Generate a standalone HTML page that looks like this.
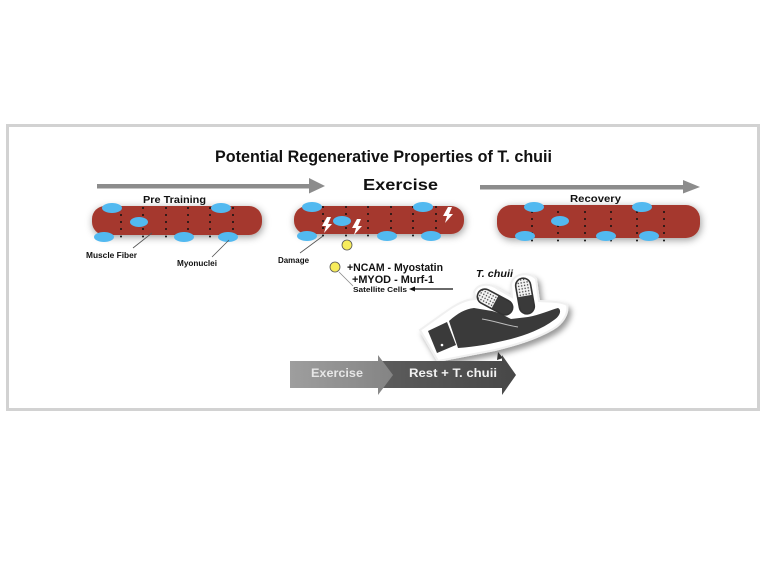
<!DOCTYPE html>
<html><head><meta charset="utf-8"><style>
html,body{margin:0;padding:0;background:#fff;}
svg{display:block;}
text{font-family:"Liberation Sans",Arial,sans-serif;font-weight:bold;fill:#111;}
</style></head><body>
<svg width="767" height="575" viewBox="0 0 767 575" xmlns="http://www.w3.org/2000/svg">
<defs>
<filter id="sh" x="-20%" y="-60%" width="140%" height="220%">
<feGaussianBlur in="SourceAlpha" stdDeviation="4"/>
<feOffset dx="1" dy="2" result="b"/>
<feFlood flood-color="#000" flood-opacity="0.4"/>
<feComposite in2="b" operator="in"/>
<feMerge><feMergeNode/><feMergeNode in="SourceGraphic"/></feMerge>
</filter>
<filter id="sh2" x="-20%" y="-30%" width="140%" height="160%">
<feGaussianBlur in="SourceAlpha" stdDeviation="3"/>
<feOffset dx="3" dy="4" result="b"/>
<feFlood flood-color="#000" flood-opacity="0.4"/>
<feComposite in2="b" operator="in"/>
<feMerge><feMergeNode/><feMergeNode in="SourceGraphic"/></feMerge>
</filter>
<pattern id="dots" width="3" height="3" patternUnits="userSpaceOnUse">
<rect width="3" height="3" fill="#f4f4f4"/><circle cx="1.5" cy="1.5" r="0.7" fill="#333"/>
</pattern>
<linearGradient id="g1" x1="0" x2="1"><stop offset="0" stop-color="#9e9e9e"/><stop offset="1" stop-color="#848484"/></linearGradient>
<linearGradient id="g2" x1="0" x2="1"><stop offset="0" stop-color="#5e5e5e"/><stop offset="1" stop-color="#474747"/></linearGradient>
<g id="col1"><circle cx="0" cy="208" r="1"/><circle cx="0" cy="215" r="1"/><circle cx="0" cy="222" r="1"/><circle cx="0" cy="229" r="1"/><circle cx="0" cy="236.5" r="1"/></g>
</defs>

<!-- frame -->
<rect x="7.5" y="125.5" width="751" height="284" fill="#fff" stroke="#d2d2d2" stroke-width="3"/>

<!-- title -->
<text x="215" y="162" font-size="16.5" textLength="337" lengthAdjust="spacingAndGlyphs">Potential Regenerative Properties of T. chuii</text>
<text x="363" y="190" font-size="15.5" textLength="75" lengthAdjust="spacingAndGlyphs">Exercise</text>

<!-- top arrows -->
<rect x="97" y="184" width="215" height="4.5" fill="#8c8c8c"/>
<polygon points="309,178 325,186 309,193.5" fill="#8c8c8c"/>
<rect x="480" y="185" width="205" height="4.5" fill="#8c8c8c"/>
<polygon points="683,180 700,187 683,193.5" fill="#8c8c8c"/>

<!-- fibers -->
<rect x="92" y="206" width="170" height="29" rx="13" fill="#a5392d" filter="url(#sh)"/>
<rect x="294" y="206" width="170" height="28" rx="13" fill="#a5392d" filter="url(#sh)"/>
<rect x="497" y="205" width="203" height="33" rx="14" fill="#a5392d" filter="url(#sh)"/>

<!-- dots -->
<g fill="#111">
<use href="#col1" x="121"/><use href="#col1" x="143"/><use href="#col1" x="166"/><use href="#col1" x="188"/><use href="#col1" x="210"/><use href="#col1" x="233"/>
<use href="#col1" x="323" y="-1"/><use href="#col1" x="346" y="-1"/><use href="#col1" x="368" y="-1"/><use href="#col1" x="391" y="-1"/><use href="#col1" x="413" y="-1"/><use href="#col1" x="436" y="-1"/>
<use href="#col1" x="532" y="4"/><use href="#col1" x="558" y="4"/><use href="#col1" x="585" y="4"/><use href="#col1" x="611" y="4"/><use href="#col1" x="637" y="4"/><use href="#col1" x="664" y="4"/>
</g>

<!-- nuclei -->
<g fill="#52b9f0">
<ellipse cx="112" cy="208" rx="10" ry="5"/><ellipse cx="139" cy="222" rx="9" ry="5"/><ellipse cx="221" cy="208" rx="10" ry="5"/>
<ellipse cx="104" cy="237" rx="10" ry="5"/><ellipse cx="184" cy="237" rx="10" ry="5"/><ellipse cx="228" cy="237" rx="10" ry="5"/>
<ellipse cx="312" cy="207" rx="10" ry="5"/><ellipse cx="342" cy="221" rx="9" ry="5"/><ellipse cx="423" cy="207" rx="10" ry="5"/>
<ellipse cx="307" cy="236" rx="10" ry="5"/><ellipse cx="387" cy="236" rx="10" ry="5"/><ellipse cx="431" cy="236" rx="10" ry="5"/>
<ellipse cx="534" cy="207" rx="10" ry="5"/><ellipse cx="560" cy="221" rx="9" ry="5"/><ellipse cx="642" cy="207" rx="10" ry="5"/>
<ellipse cx="525" cy="236" rx="10" ry="5"/><ellipse cx="606" cy="236" rx="10" ry="5"/><ellipse cx="649" cy="236" rx="10" ry="5"/>
</g>

<!-- lightning -->
<g fill="#fff">
<polygon points="327,217 331,217 328,224 332,224 324,233 326,226 322,226"/>
<polygon points="357,219 361,219 358,226 362,226 354,235 356,228 352,228"/>
<polygon points="448,207 452,207 449,214 453,214 445,223 447,216 443,216"/>
</g>

<!-- labels fiber 1 -->
<text x="143" y="203" font-size="10.5" textLength="63" lengthAdjust="spacingAndGlyphs">Pre Training</text>
<text x="570" y="202" font-size="10.5" textLength="51" lengthAdjust="spacingAndGlyphs">Recovery</text>
<line x1="133" y1="248" x2="152" y2="233" stroke="#555" stroke-width="0.8"/>
<text x="86" y="258" font-size="8" textLength="51" lengthAdjust="spacingAndGlyphs">Muscle Fiber</text>
<line x1="212" y1="257" x2="229" y2="240" stroke="#555" stroke-width="0.8"/>
<text x="177" y="266" font-size="8" textLength="40" lengthAdjust="spacingAndGlyphs">Myonuclei</text>

<!-- exercise labels -->
<line x1="300" y1="253" x2="323" y2="236" stroke="#555" stroke-width="0.8"/>
<text x="278" y="263" font-size="8" textLength="31" lengthAdjust="spacingAndGlyphs">Damage</text>
<circle cx="347" cy="245" r="5" fill="#f7ec5c" stroke="#555" stroke-width="0.8"/>
<circle cx="335" cy="267" r="5" fill="#f7ec5c" stroke="#555" stroke-width="0.8"/>
<line x1="339" y1="272" x2="353" y2="286" stroke="#888" stroke-width="0.8"/>
<text x="347" y="271" font-size="11" textLength="96" lengthAdjust="spacingAndGlyphs">+NCAM - Myostatin</text>
<text x="352" y="283" font-size="11" textLength="82" lengthAdjust="spacingAndGlyphs">+MYOD - Murf-1</text>
<text x="353" y="292" font-size="7.5" textLength="54" lengthAdjust="spacingAndGlyphs">Satellite Cells</text>
<line x1="414" y1="289" x2="453" y2="289" stroke="#111" stroke-width="1.3"/>
<polygon points="409,289 415,286.5 415,291.5" fill="#111"/>

<!-- T. chuii -->
<text x="476" y="277" font-size="10" font-style="italic" textLength="37" lengthAdjust="spacingAndGlyphs">T. chuii</text>

<!-- hand with outline -->
<g filter="url(#sh2)">
<path d="M420,330 L444,313 C456,304 466,299 476,299 L474,292 C478,283 490,283 498,289 L512,297 L511,285 C512,273 530,271 536,279 L539,301 C549,302 560,301 567,305 C569,314 562,324 553,329 C536,339 515,345 495,350 C475,354 458,357 438,361 Z" fill="#fff" stroke="#f0f0f0" stroke-width="2"/>
</g>
<polygon points="428,331 447,322 456,345 437,353" fill="#3a3a3a"/>
<circle cx="442" cy="345" r="1.3" fill="#fff"/>
<path d="M449,321 C458,313 465,309 474,308 L492,311 C500,313 505,316 511,319 L528,317 C540,315 550,310 558,308 C562,310 560,316 554,320 C542,329 526,335 511,339 C495,343 476,347 458,348 Z" fill="#3a3a3a"/>
<path d="M482,319 C495,321 505,325 518,327" stroke="#bdbdbd" stroke-width="1" fill="none"/>
<!-- pills -->
<g transform="translate(495,302) rotate(28)">
<rect x="-19" y="-7.5" width="38" height="15" rx="7.5" fill="#fff"/>
<path d="M0,-7.5 L-11.5,-7.5 A7.5,7.5 0 0 0 -11.5,7.5 L0,7.5 Z" fill="url(#dots)"/>
<path d="M0,-7.5 L11.5,-7.5 A7.5,7.5 0 0 1 11.5,7.5 L0,7.5 Z" fill="#3a3a3a"/>
<rect x="-19" y="-7.5" width="38" height="15" rx="7.5" fill="none" stroke="#333" stroke-width="1.6"/>
</g>
<g transform="translate(525,296) rotate(-10)">
<rect x="-7.5" y="-18" width="15" height="36" rx="7.5" fill="#fff"/>
<path d="M-7.5,0 L-7.5,-10.5 A7.5,7.5 0 0 1 7.5,-10.5 L7.5,0 Z" fill="url(#dots)"/>
<path d="M-7.5,0 L-7.5,10.5 A7.5,7.5 0 0 0 7.5,10.5 L7.5,0 Z" fill="#3a3a3a"/>
<rect x="-7.5" y="-18" width="15" height="36" rx="7.5" fill="none" stroke="#333" stroke-width="1.6"/>
</g>
<polygon points="498,352 503,358 497,360" fill="#333"/>

<!-- chevrons -->
<polygon points="372,361 502,361 502,355 516,375 502,395 502,388 372,388" fill="url(#g2)"/>
<polygon points="290,361 378,361 378,355 393,375 378,395 378,388 290,388" fill="url(#g1)"/>
<text x="311" y="377" font-size="12" style="fill:#e6e6e6" textLength="52" lengthAdjust="spacingAndGlyphs">Exercise</text>
<text x="409" y="377" font-size="12" style="fill:#f2f2f2" textLength="88" lengthAdjust="spacingAndGlyphs">Rest + T. chuii</text>
</svg>
</body></html>
